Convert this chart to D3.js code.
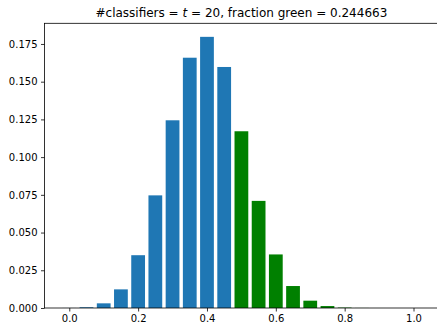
<!DOCTYPE html>
<html>
<head>
<meta charset="utf-8">
<script src="https://cdn.jsdelivr.net/npm/d3@7"></script>
<style>
  body { margin: 0; background: #fff; }
  svg { display: block; font-family: "DejaVu Sans", sans-serif; }
</style>
</head>
<body>
<div id="root"></div>
<script>
const WIDTH = 437;
const HEIGHT = 324;
const margin = { left: 44.5, right: -1.3, top: 23.3, bottom: 16 };

// fraction of classifiers correct (k / 20) and probability of each
const fractions = d3.range(0, 21).map(k => k / 20);
const probs = [0.0000366, 0.000488, 0.00309, 0.01235, 0.03499, 0.07465, 0.12441,
    0.16588, 0.17971, 0.15974, 0.11714, 0.07099, 0.0355, 0.01456, 0.00485,
    0.00129, 0.00027, 0.0000423, 0.0000047, 0.0000003, 0.0];
const greenFrom = 0.5;
const xTicks = [0.0, 0.2, 0.4, 0.6, 0.8, 1.0];
const yTicks = [0.000, 0.025, 0.050, 0.075, 0.100, 0.125, 0.150, 0.175];
const title = '#classifiers = t = 20, fraction green = 0.244663';

const data = fractions.map((f, i) => ({ f, p: probs[i] }));

const w = WIDTH - margin.left - margin.right;
const h = HEIGHT - margin.top - margin.bottom;

const x = d3.scaleLinear().domain([-0.072, 1.072]).range([0, w]);
const y = d3.scaleLinear().domain([0, 0.18869]).range([h, 0]);
const barW = x(0.04) - x(0);

const svg = d3.select('#root').append('svg')
    .attr('width', WIDTH)
    .attr('height', HEIGHT);

const g = svg.append('g')
    .attr('transform', `translate(${margin.left}, ${margin.top})`);

g.selectAll('.bar')
    .data(data)
  .enter().append('rect')
    .attr('class', 'bar')
    .attr('x', d => x(d.f) - barW / 2)
    .attr('width', barW)
    .attr('y', d => y(d.p))
    .attr('height', d => h - y(d.p))
    .attr('fill', d => d.f >= greenFrom ? '#008000' : '#1f77b4');

const xAxis = d3.axisBottom(x).tickValues(xTicks).tickFormat(d3.format('.1f'))
    .tickSize(3.5).tickPadding(3.5);
const yAxis = d3.axisLeft(y).tickValues(yTicks).tickFormat(d3.format('.3f'))
    .tickSize(3.5).tickPadding(3.5);

const gx = g.append('g')
    .attr('transform', `translate(0, ${h})`)
    .call(xAxis);
const gy = g.append('g').call(yAxis);

[gx, gy].forEach(a => {
    a.select('.domain').remove();
    a.selectAll('line').attr('stroke', '#000').attr('stroke-width', 0.8);
    a.selectAll('text').attr('font-size', 10).attr('fill', '#000')
        .attr('font-family', '"DejaVu Sans", sans-serif');
});

// spines
g.append('rect')
    .attr('x', 0).attr('y', 0)
    .attr('width', w).attr('height', h)
    .attr('fill', 'none')
    .attr('stroke', '#000')
    .attr('stroke-width', 0.8);

const t = svg.append('text')
    .attr('x', margin.left + w / 2)
    .attr('y', margin.top - 6)
    .attr('text-anchor', 'middle')
    .attr('font-size', 12);
t.append('tspan').text('#classifiers = ');
t.append('tspan').attr('font-style', 'italic').text('t');
t.append('tspan').text(' = 20, fraction green = 0.244663');
</script>
</body>
</html>
